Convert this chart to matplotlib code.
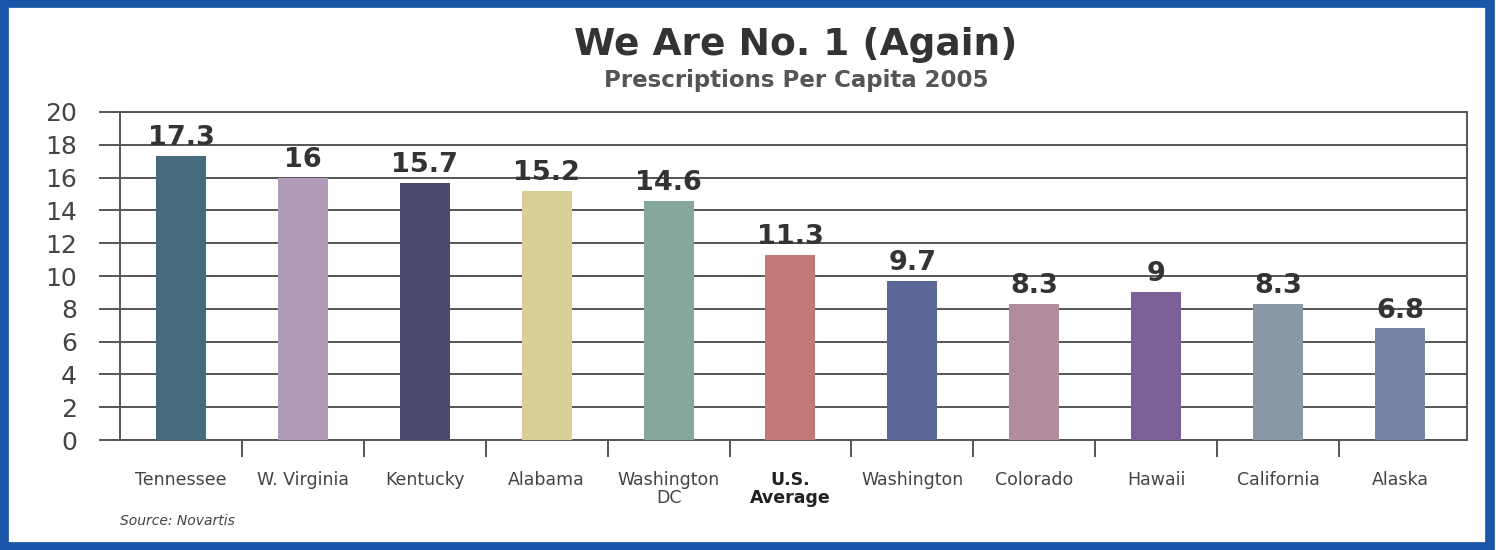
import matplotlib.pyplot as plt
from matplotlib.patches import Rectangle

# data
states = ["Tennessee", "W. Virginia", "Kentucky", "Alabama", "Washington\nDC",
          "U.S.\nAverage", "Washington", "Colorado", "Hawaii", "California", "Alaska"]
values = [17.3, 16, 15.7, 15.2, 14.6, 11.3, 9.7, 8.3, 9, 8.3, 6.8]
value_labels = ["17.3", "16", "15.7", "15.2", "14.6", "11.3", "9.7", "8.3", "9", "8.3", "6.8"]
colors = ["#456b7c", "#b09cb8", "#4b4870", "#d8cf98", "#86a89a", "#c07a76",
          "#5a6696", "#b48a9e", "#7a6096", "#8a98a6", "#7884a8"]
yticks = [0, 2, 4, 6, 8, 10, 12, 14, 16, 18, 20]

plt.rcParams['font.family'] = ['DejaVu Sans']

fig = plt.figure(figsize=(14.96, 5.5), dpi=100)
ax = fig.add_axes([120 / 1496, 110 / 550, (1467 - 120) / 1496, (440 - 112) / 550])

x = list(range(len(states)))
ax.bar(x, values, width=0.41, color=colors, zorder=3)

for xi, v, lab in zip(x, values, value_labels):
    ax.text(xi, v + 0.3, lab, ha="center", va="bottom", fontsize=19.5,
            fontweight="bold", color="#333333", zorder=4)

ax.set_xlim(-0.5, 10.55)
ax.set_ylim(0, 20)
ax.set_yticks(yticks)
ax.set_yticklabels([str(t) for t in yticks], fontsize=18, color="#444444")
ax.yaxis.grid(True, color="#555555", linewidth=1.4, zorder=0)
ax.tick_params(axis="y", length=15, width=1.4, color="#555555", pad=16)

# category labels, ticks at the boundaries between bars
ax.set_xticks(x)
ax.set_xticklabels(states, fontsize=12.5, color="#444444", linespacing=1.0)
ax.tick_params(axis="x", length=0, pad=22)
ax.get_xticklabels()[5].set_fontweight("bold")
ax.get_xticklabels()[5].set_color("#222222")
ax.set_xticks([i + 0.5 for i in range(10)], minor=True)
ax.tick_params(axis="x", which="minor", length=12, width=1.4, color="#555555")

for side in ["left", "right", "bottom", "top"]:
    ax.spines[side].set_color("#555555")
    ax.spines[side].set_linewidth(1.4)

fig.text(796 / 1496, 1 - 45 / 550, "We Are No. 1 (Again)", ha="center", va="center",
         fontsize=27, fontweight="bold", color="#333333")
fig.text(796 / 1496, 1 - 80 / 550, "Prescriptions Per Capita 2005", ha="center", va="center",
         fontsize=16.5, fontweight="bold", color="#555555")
fig.text(120 / 1496, 1 - 521 / 550, "Source: Novartis", ha="left", va="center",
         fontsize=10, style="italic", color="#444444")

# blue frame
fig.patches.append(Rectangle((0.003, 0.006), 0.993, 0.988, transform=fig.transFigure,
                             fill=False, edgecolor="#1a56a8", linewidth=7))

fig.savefig("out.png", dpi=100)
